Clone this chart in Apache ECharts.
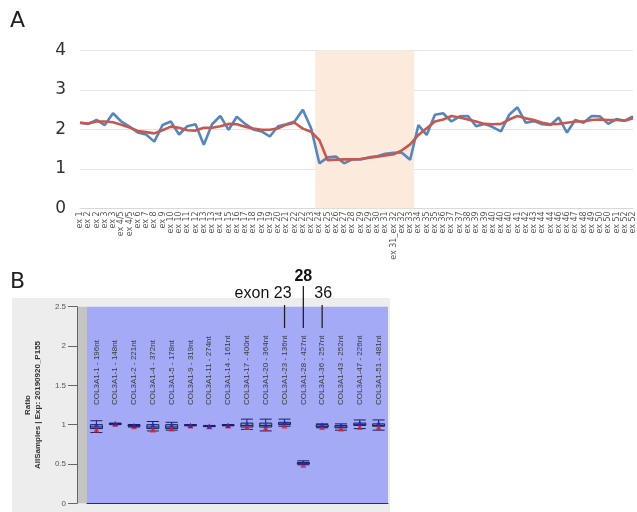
<!DOCTYPE html>
<html><head><meta charset="utf-8">
<script src="https://cdn.jsdelivr.net/npm/echarts@6/dist/echarts.min.js"></script>
<style>html,body{margin:0;padding:0;background:#fff}#c{width:637px;height:512px}</style>
</head><body><div id="c"></div>
<script>
// ---- Panel A data ----
const exonLabels = ['ex 1','ex 2','ex 2','ex 3','ex 3','ex 4/5','ex 4/5','ex 6','ex 7','ex 8','ex 9','ex 10','ex 10','ex 11','ex 12','ex 13','ex 13','ex 14','ex 15','ex 16','ex 17','ex 18','ex 19','ex 19','ex 20','ex 21','ex 22','ex 22','ex 23','ex 24','ex 25','ex 26','ex 27','ex 28','ex 29','ex 29','ex 30','ex 31','ex 31_ex 32','ex 32','ex 33','ex 34','ex 35','ex 35','ex 36','ex 37','ex 37','ex 38','ex 39','ex 39','ex 40','ex 40','ex 40','ex 41','ex 42','ex 43','ex 44','ex 44','ex 46','ex 46','ex 47','ex 48','ex 49','ex 50','ex 50','ex 51','ex 52','ex 52'];
const observed = [2.17,2.14,2.24,2.11,2.41,2.2,2.07,1.92,1.87,1.69,2.11,2.2,1.87,2.08,2.13,1.61,2.13,2.34,1.99,2.32,2.14,2.0,1.95,1.82,2.08,2.13,2.2,2.5,2.03,1.14,1.29,1.31,1.14,1.24,1.24,1.29,1.32,1.38,1.41,1.41,1.23,2.11,1.86,2.37,2.41,2.2,2.33,2.34,2.08,2.14,2.06,1.95,2.37,2.56,2.17,2.21,2.13,2.11,2.3,1.92,2.24,2.17,2.34,2.33,2.14,2.26,2.22,2.33];
const smoothed = [2.17,2.15,2.2,2.2,2.18,2.12,2.05,1.96,1.93,1.9,1.98,2.07,2.04,1.98,1.97,2.04,2.04,2.08,2.14,2.13,2.07,2.02,1.99,1.99,2.03,2.12,2.17,2.02,1.94,1.73,1.22,1.23,1.24,1.24,1.25,1.28,1.31,1.34,1.37,1.47,1.62,1.86,2.03,2.2,2.25,2.34,2.3,2.25,2.2,2.14,2.13,2.14,2.25,2.34,2.28,2.24,2.17,2.13,2.14,2.17,2.2,2.2,2.24,2.25,2.24,2.24,2.22,2.28];
const highlightRange = [28.5, 40.5];

// ---- Panel B data ----
const probeLabels = ['COL3A1-1 - 196nt','COL3A1-1 - 148nt','COL3A1-2 - 221nt','COL3A1-4 - 372nt','COL3A1-5 - 178nt','COL3A1-9 - 319nt','COL3A1-11 - 274nt','COL3A1-14 - 161nt','COL3A1-17 - 400nt','COL3A1-20 - 364nt','COL3A1-23 - 136nt','COL3A1-28 - 427nt','COL3A1-36 - 257nt','COL3A1-43 - 252nt','COL3A1-47 - 226nt','COL3A1-51 - 481nt'];
const probeBox = [[0.90,0.95,0.97,1.00,1.05],[1.00,1.005,1.01,1.015,1.02],[0.97,0.98,0.99,1.00,1.00],[0.92,0.95,0.97,1.00,1.04],[0.93,0.95,0.97,1.00,1.03],[0.985,0.99,0.99,1.00,1.00],[0.975,0.98,0.98,0.985,0.99],[0.985,0.99,0.99,1.00,1.00],[0.94,0.97,0.99,1.02,1.07],[0.92,0.97,0.99,1.02,1.07],[0.98,1.00,1.01,1.03,1.07],[0.49,0.50,0.51,0.52,0.54],[0.96,0.97,0.98,1.00,1.01],[0.93,0.96,0.97,0.99,1.01],[0.95,0.99,1.00,1.02,1.06],[0.93,0.98,0.99,1.01,1.06]];
const probeBlue = [1.0,1.01,0.99,1.0,1.0,0.99,0.98,0.99,1.01,1.0,1.03,0.52,1.0,0.99,1.02,1.02];
const probeRed = [0.94,1.01,0.98,0.94,0.95,0.99,0.98,0.99,0.97,0.96,0.99,0.49,0.97,0.95,0.97,0.97];
const exonMarks = [{probe:10,text:'exon 23',bold:false},{probe:11,text:'28',bold:true},{probe:12,text:'36',bold:false}];

const chart = echarts.init(document.getElementById('c'), null, {renderer:'canvas'});
const fA = 'DejaVu Sans';
const fB = 'Liberation Sans';
chart.setOption({
  animation:false,
  grid:[
    {left:80,right:3,top:50.5,height:157.8},
    {left:87,right:249,top:306.7,height:196.6,show:true,backgroundColor:'#a4aaf6',borderWidth:0}
  ],
  xAxis:[
    {type:'value',gridIndex:0,min:0,max:exonLabels.length-1,interval:1,
     axisLabel:{rotate:90,fontSize:8,color:'#595959',fontFamily:fA,margin:3,formatter:v=>exonLabels[v]||''},
     axisLine:{show:true,lineStyle:{color:'#d9d9d9'}},axisTick:{show:false},splitLine:{show:false}},
    {type:'category',gridIndex:1,data:probeLabels,
     axisLabel:{show:false},axisTick:{alignWithLabel:true,length:6,lineStyle:{color:'#333'}},
     axisLine:{lineStyle:{color:'#333'}}}
  ],
  yAxis:[
    {type:'value',gridIndex:0,min:0,max:4,interval:1,
     axisLabel:{fontSize:17,color:'#333',fontFamily:fA,margin:14},
     splitLine:{lineStyle:{color:'#e4e4e4'}},axisLine:{show:false},axisTick:{show:false}},
    {type:'value',gridIndex:1,min:0,max:2.5,interval:0.5,offset:10,
     axisLabel:{fontSize:8,color:'#555',fontFamily:fB,margin:11},
     axisTick:{show:true,length:9,lineStyle:{color:'#666'}},
     axisLine:{show:true,lineStyle:{color:'#666'}},splitLine:{show:false},
     name:'Ratio\nAllSamples | Exp: 20190920_P155',nameLocation:'middle',nameGap:34,nameRotate:90,
     nameTextStyle:{fontSize:8,fontWeight:'bold',color:'#333',fontFamily:fB,lineHeight:10}}
  ],
  series:[
    {type:'line',xAxisIndex:0,yAxisIndex:0,data:observed.map((v,i)=>[i,v]),symbol:'none',
     lineStyle:{color:'#5586be',width:2.6},z:3,
     markArea:{silent:true,itemStyle:{color:'#fcebdc'},data:[[{xAxis:highlightRange[0]},{xAxis:highlightRange[1]}]]}},
    {type:'line',xAxisIndex:0,yAxisIndex:0,data:smoothed.map((v,i)=>[i,v]),symbol:'none',
     lineStyle:{color:'#c5594f',width:2.6},z:4},
    {type:'boxplot',xAxisIndex:1,yAxisIndex:1,data:probeBox,boxWidth:[12,12],
     itemStyle:{color:'#8d98b5',borderColor:'#1a2060',borderWidth:1}},
    {type:'scatter',xAxisIndex:1,yAxisIndex:1,data:probeRed.map((v,i)=>[i,v]),symbol:'triangle',symbolSize:6,
     itemStyle:{color:'#e51c24'},z:5},
    {type:'scatter',xAxisIndex:1,yAxisIndex:1,data:probeBlue.map((v,i)=>[i,v]),symbol:'triangle',symbolSize:5,
     itemStyle:{color:'#1526d6'},z:6}
  ]
});

const g = [
  {type:'rect',z:-100,shape:{x:12,y:298,width:378,height:214},style:{fill:'#ededed'}},
  {type:'rect',z:-99,shape:{x:77,y:306.7,width:10,height:196.6},style:{fill:'#c4c4c4'}},
  {type:'text',x:10,y:10,style:{text:'A',fontSize:22,fontFamily:fA,fill:'#222'}},
  {type:'text',x:10,y:271,style:{text:'B',fontSize:22,fontFamily:fA,fill:'#222'}}
];
probeLabels.forEach((lab,i)=>{
  const px = chart.convertToPixel({xAxisIndex:1}, i);
  g.push({type:'text',x:px,y:405,rotation:Math.PI/2,
    style:{text:lab,fontSize:8,fontFamily:fB,fill:'#3a3a3a',align:'left',verticalAlign:'middle'}});
});
exonMarks.forEach(m=>{
  const px = chart.convertToPixel({xAxisIndex:1}, m.probe);
  const top = m.bold ? 286 : 305;
  g.push({type:'line',shape:{x1:px,y1:top,x2:px,y2:328},style:{stroke:'#222',lineWidth:1.3}});
  g.push({type:'text',x:m.bold? px : (m.probe===12? px+1 : px+7),y:m.bold?285:302,
    style:{text:m.text,fontSize:16,fontWeight:m.bold?'bold':'normal',fontFamily:fB,fill:'#111',
      align:m.bold?'center':(m.probe===12?'center':'right'),verticalAlign:'bottom'}});
});
chart.setOption({graphic:g});
</script></body></html>
